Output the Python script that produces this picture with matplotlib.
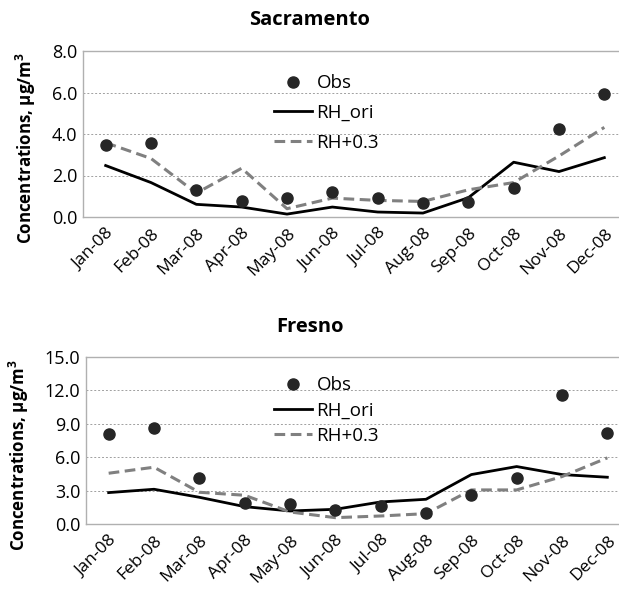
import matplotlib
matplotlib.use("Agg")
import matplotlib.pyplot as plt

plt.rcParams['font.family'] = ['Open Sans', 'DejaVu Sans']

months = ["Jan-08", "Feb-08", "Mar-08", "Apr-08", "May-08", "Jun-08",
          "Jul-08", "Aug-08", "Sep-08", "Oct-08", "Nov-08", "Dec-08"]

sac_obs = [3.49, 3.58, 1.28, 0.77, 0.91, 1.20, 0.90, 0.67, 0.70, 1.41, 4.22, 5.94]
sac_ori = [2.48, 1.66, 0.61, 0.48, 0.14, 0.48, 0.24, 0.19, 0.93, 2.64, 2.19, 2.86]
sac_rh3 = [3.58, 2.82, 1.15, 2.35, 0.40, 0.91, 0.80, 0.75, 1.31, 1.66, 2.94, 4.32]

fre_obs = [8.04, 8.61, 4.17, 1.86, 1.80, 1.26, 1.65, 1.02, 2.64, 4.11, 11.61, 8.16]
fre_ori = [2.82, 3.12, 2.40, 1.56, 1.17, 1.32, 1.98, 2.22, 4.44, 5.16, 4.44, 4.20]
fre_rh3 = [4.56, 5.10, 2.85, 2.58, 1.08, 0.57, 0.72, 0.93, 3.06, 3.06, 4.26, 5.94]

W, H = 619, 591
fig = plt.figure(figsize=(W / 100, H / 100), dpi=100)


def panel(rect, title, obs, ori, rh3, ymax, step, leg_y, spacing, title_y, lab_xy):
    l, t, r, b = rect
    ax = fig.add_axes([l / W, 1 - b / H, (r - l) / W, (b - t) / H])
    x = list(range(len(months)))
    ax.plot(x, obs, 'o', color='#262626', markersize=8, label='Obs', zorder=4)
    ax.plot(x, ori, '-', color='black', lw=2, label='RH_ori', zorder=3)
    ax.plot(x, rh3, '--', color='#808080', lw=2.2, dashes=(3.5, 1.8),
            label='RH+0.3', zorder=3)
    ax.set_xlim(-0.5, 11.5)
    ax.set_ylim(0, ymax)
    ticks = [i * step for i in range(int(round(ymax / step)) + 1)]
    ax.set_yticks(ticks)
    ax.set_yticklabels(["%.1f" % v for v in ticks], fontsize=13)
    ax.set_xticks(x)
    ax.set_xticklabels(months, rotation=45, ha='right', rotation_mode='anchor',
                       fontsize=12.5)
    ax.tick_params(length=0, pad=4)
    ax.tick_params(axis='x', pad=6)
    for v in ticks[1:-1]:
        ax.axhline(v, color='#a0a0a0', lw=0.7, ls=(0, (2, 2)), zorder=1)
    for s in ax.spines.values():
        s.set_color('#b0b0b0')
        s.set_linewidth(1)
    fig.text(lab_xy[0] / W, 1 - lab_xy[1] / H,
             "Concentrations, µg/m$^\\mathregular{3}$", rotation=90,
             ha='center', va='center', fontsize=12.2, fontweight='bold')
    fig.text(310 / W, 1 - title_y / H, title, ha='center', va='center',
             fontsize=14.5, fontweight='bold')
    ax.legend(loc='upper left', bbox_to_anchor=((265 - l) / (r - l), 1 - (leg_y - t) / (b - t)),
              frameon=False, fontsize=13.5, handlelength=2.0, handletextpad=0.25,
              labelspacing=spacing, borderpad=0)
    return ax


panel((83, 51, 627, 217), "Sacramento", sac_obs, sac_ori, sac_rh3,
      8.0, 2.0, 65, 0.62, 20, (26, 148))
panel((86, 357, 630, 524), "Fresno", fre_obs, fre_ori, fre_rh3,
      15.0, 3.0, 367, 0.38, 327, (19, 455))

fig.savefig("out.png", dpi=100)
